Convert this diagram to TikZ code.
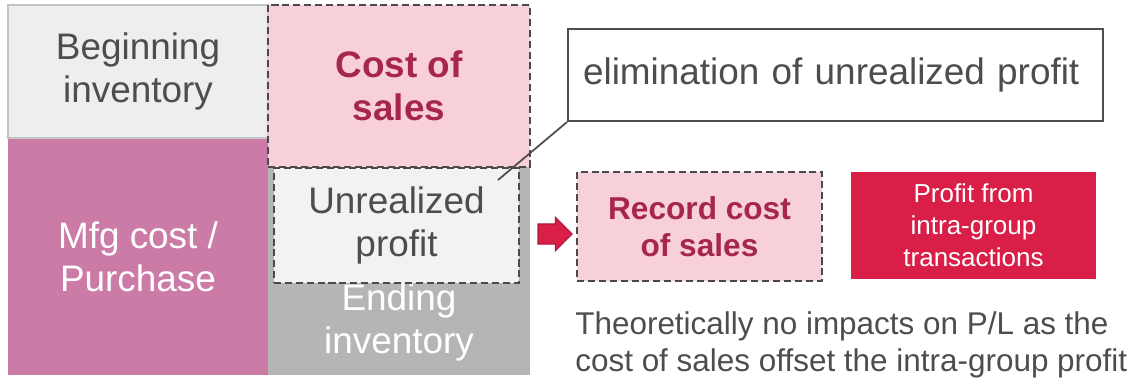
\documentclass[tikz,border=0pt]{standalone}
\usepackage{fontspec}
\setmainfont{Liberation Sans}
\usetikzlibrary{shapes.arrows}

\definecolor{begfill}{HTML}{EDEEED}
\definecolor{begline}{HTML}{C4C4C4}
\definecolor{mfgfill}{HTML}{CC7BA6}
\definecolor{endfill}{HTML}{B5B5B6}
\definecolor{cosfill}{HTML}{F8D0DA}
\definecolor{upfill}{HTML}{F2F2F2}
\definecolor{dashgray}{HTML}{4A4A4A}
\definecolor{txtgray}{HTML}{4D4D4D}
\definecolor{winered}{HTML}{A6264F}
\definecolor{brightred}{HTML}{D91E48}
\definecolor{arrowline}{HTML}{B0163A}

\begin{document}
\begin{tikzpicture}[x=0.02cm, y=-0.02cm,
  box/.style={inner sep=0, align=center},
  dashbox/.style={draw=dashgray, dash pattern=on 4pt off 2.2pt, line width=1.3pt},
  bigtxt/.style={font=\fontsize{21}{24.5}\selectfont},
  midtxt/.style={font=\fontsize{18}{21}\selectfont},
  smalltxt/.style={font=\fontsize{14.8}{18.2}\selectfont}]

\useasboundingbox (0,0) rectangle (1138,383);

\node[box, bigtxt, fill=mfgfill, text=white, minimum width=5.2cm, minimum height=4.74cm] (mfg) at (138,256.5) {Mfg cost /\\Purchase};
\node[box, bigtxt, fill=endfill, minimum width=5.24cm, minimum height=4.16cm] (ending) at (399,271) {};
\node[box, bigtxt, text=white] (endtxt) at (399,322) {Ending\\inventory};
\node[box, bigtxt, fill=begfill, draw=begline, line width=1.3pt, text=txtgray, minimum width=5.2cm, minimum height=2.66cm] (begin) at (138,71.5) {Beginning\\inventory};

\node[box, dashbox, bigtxt, fill=cosfill, text=winered, minimum width=5.24cm, minimum height=3.24cm] (cos) at (399,86) {\bfseries Cost of\\\bfseries sales};
\node[box, dashbox, bigtxt, fill=upfill, text=txtgray, minimum width=4.9cm, minimum height=2.3cm] (unreal) at (396.5,225.5) {Unrealized\\profit};

\node[box, bigtxt, draw=txtgray, line width=1.1pt, fill=white, text=txtgray, text width=10.1cm, inner xsep=0.3cm, align=left, minimum height=1.84cm] (call) at (835.5,75) {elimination of unrealized profit};
\coordinate (tip) at (498,180);
\draw[-, color=txtgray, line width=1pt] (call.south west) to (tip);

\node[single arrow, draw=arrowline, fill=brightred, line width=0.6pt, inner sep=0.19cm, minimum height=0.68cm, single arrow head extend=0.13cm] (arr) at (550,234) {};

\node[box, dashbox, midtxt, fill=cosfill, text=winered, minimum width=4.9cm, minimum height=2.18cm] (record) at (699.5,226.5) {\bfseries Record cost\\\bfseries of sales};
\node[box, smalltxt, fill=brightred, text=white, minimum width=4.9cm, minimum height=2.14cm] (profit) at (973.5,225.5) {Profit from\\intra-group\\transactions};

\node[box, font=\fontsize{17.9}{21}\selectfont, text=txtgray, align=left, anchor=west] (note) at (575,345) {Theoretically no impacts on P/L as the\\cost of sales offset the intra-group profit};

\end{tikzpicture}
\end{document}
